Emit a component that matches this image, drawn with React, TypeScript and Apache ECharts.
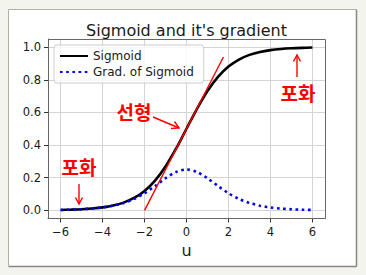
import React, { useEffect, useRef } from 'react';
import * as echarts from 'echarts';

const uValues = [-6, -5.5, -5, -4.5, -4, -3.5, -3, -2.5, -2, -1.5, -1, -0.5, 0, 0.5, 1, 1.5, 2, 2.5, 3, 3.5, 4, 4.5, 5, 5.5, 6];
const sigmoidValues = [0.0025, 0.0041, 0.0067, 0.011, 0.018, 0.0293, 0.0474, 0.0759, 0.1192, 0.1824, 0.2689, 0.3775, 0.5, 0.6225, 0.7311, 0.8176, 0.8808, 0.9241, 0.9526, 0.9707, 0.982, 0.989, 0.9933, 0.9959, 0.9975];
const gradValues = [0.0025, 0.0041, 0.0066, 0.0109, 0.0177, 0.0285, 0.0452, 0.0701, 0.105, 0.1491, 0.1966, 0.235, 0.25, 0.235, 0.1966, 0.1491, 0.105, 0.0701, 0.0452, 0.0285, 0.0177, 0.0109, 0.0066, 0.0041, 0.0025];
const tangentU = [-2, 1.76];
const tangentY = [0, 0.94];
const xTicks = [-6, -4, -2, 0, 2, 4, 6];
const yTicks = [0, 0.2, 0.4, 0.6, 0.8, 1.0];

const FONT = 'DejaVu Sans';
const KFONT = '"Noto Sans CJK KR"';
const RED = '#ff0000';
const TXT = '#1a1a1a';

export default function App() {
  const ref = useRef<HTMLDivElement>(null);
  useEffect(() => {
    const chart = echarts.init(ref.current!, null, { renderer: 'svg' });
    const sig = uValues.map((u, i) => [u, sigmoidValues[i]]);
    const grad = uValues.map((u, i) => [u, gradValues[i]]);
    const tan = tangentU.map((u, i) => [u, tangentY[i]]);
    chart.setOption({
      animation: false,
      backgroundColor: '#f4f4ef',
      textStyle: { fontFamily: FONT },
      grid: { left: 48, right: 41, top: 39, bottom: 56.5, show: false },
      legend: {
        data: ['Sigmoid', 'Grad. of Sigmoid'],
        orient: 'vertical',
        left: 54,
        top: 45,
        padding: [5, 10, 5, 5],
        itemWidth: 28,
        itemHeight: 14,
        itemGap: 4,
        itemStyle: { opacity: 0 },
        backgroundColor: 'rgba(255,255,255,0.8)',
        borderColor: '#cccccc',
        borderWidth: 1,
        borderRadius: 3,
        textStyle: { fontFamily: FONT, fontSize: 12, color: TXT },
      },
      xAxis: {
        type: 'value',
        min: -6.6,
        max: 6.6,
        name: 'u',
        nameLocation: 'middle',
        nameGap: 19,
        nameTextStyle: { fontFamily: FONT, fontSize: 16, color: TXT },
        axisLine: { onZero: false, lineStyle: { color: '#666', width: 1 } },
        axisTick: { show: true, length: 4, customValues: xTicks, lineStyle: { color: '#333' } },
        axisLabel: {
          customValues: xTicks,
          margin: 7,
          fontSize: 11.5,
          color: TXT,
          fontFamily: FONT,
          formatter: (v: number) => (v < 0 ? '\u2212' + Math.abs(v) : String(v)),
        },
        splitLine: { show: true, lineStyle: { color: '#d4d4d4', width: 1 } },
      },
      yAxis: {
        type: 'value',
        min: -0.05,
        max: 1.05,
        axisLine: { show: true, onZero: false, lineStyle: { color: '#666', width: 1 } },
        axisTick: { show: true, length: 4, customValues: yTicks, lineStyle: { color: '#333' } },
        axisLabel: {
          customValues: yTicks,
          margin: 7,
          fontSize: 11.5,
          color: TXT,
          fontFamily: FONT,
          formatter: (v: number) => v.toFixed(1),
        },
        splitLine: { show: true, lineStyle: { color: '#d4d4d4', width: 1 } },
      },
      series: [
        {
          name: 'Sigmoid',
          type: 'line',
          data: sig,
          smooth: 0.3,
          showSymbol: false,
          symbol: 'none',
          lineStyle: { color: '#000', width: 2.6 },
          itemStyle: { color: '#000' },
          z: 3,
        },
        {
          name: 'Grad. of Sigmoid',
          type: 'line',
          data: grad,
          smooth: 0.3,
          showSymbol: false,
          symbol: 'none',
          lineStyle: { color: '#0000ff', width: 2.6, type: [2.6, 3.6] },
          itemStyle: { color: '#0000ff' },
          z: 4,
        },
        {
          name: 'tangent',
          type: 'line',
          data: tan,
          showSymbol: false,
          symbol: 'none',
          lineStyle: { color: RED, width: 1.4 },
          itemStyle: { color: RED },
          z: 5,
        },
      ],
      graphic: [
        {
          type: 'rect',
          z: -10,
          shape: { x: 8.5, y: 9.5, width: 347.5, height: 256.5 },
          style: { fill: '#ffffff', stroke: null },
        },
        { type: 'line', z: -9, shape: { x1: 8.5, y1: 9.5, x2: 356, y2: 9.5 }, style: { stroke: '#b0b0a8', lineWidth: 1 } },
        { type: 'line', z: -9, shape: { x1: 8.5, y1: 9.5, x2: 8.5, y2: 266 }, style: { stroke: '#b0b0a8', lineWidth: 1 } },
        { type: 'line', z: -9, shape: { x1: 356.5, y1: 9.5, x2: 356.5, y2: 266.5 }, style: { stroke: '#8a8580', lineWidth: 1.5 } },
        { type: 'line', z: -9, shape: { x1: 8.5, y1: 266.5, x2: 356.5, y2: 266.5 }, style: { stroke: '#8a8580', lineWidth: 1.5 } },
        {
          type: 'rect',
          z: 20,
          silent: true,
          shape: { x: 48.5, y: 39.5, width: 277, height: 179 },
          style: { fill: null, stroke: '#666', lineWidth: 1 },
        },
        {
          type: 'text',
          z: 20,
          x: 186.5,
          y: 30,
          style: {
            text: "Sigmoid and it's gradient",
            fontFamily: FONT,
            fontSize: 16,
            fill: TXT,
            align: 'center',
            verticalAlign: 'middle',
          },
        },
        {
          type: 'text',
          z: 30,
          x: 134,
          y: 111,
          style: { text: '선형', fontFamily: KFONT, fontWeight: 'bold', fontSize: 19, fill: RED, align: 'center', verticalAlign: 'middle' },
        },
        {
          type: 'text',
          z: 30,
          x: 79,
          y: 166,
          style: { text: '포화', fontFamily: KFONT, fontWeight: 'bold', fontSize: 19, fill: RED, align: 'center', verticalAlign: 'middle' },
        },
        {
          type: 'text',
          z: 30,
          x: 298,
          y: 92,
          style: { text: '포화', fontFamily: KFONT, fontWeight: 'bold', fontSize: 19, fill: RED, align: 'center', verticalAlign: 'middle' },
        },
        { type: 'line', z: 30, shape: { x1: 153, y1: 117, x2: 179, y2: 128 }, style: { stroke: RED, lineWidth: 1.4 } },
        { type: 'polyline', z: 30, shape: { points: [[171, 128.5], [179, 128], [174.5, 121.5]] }, style: { stroke: RED, lineWidth: 1.4, fill: null } },
        { type: 'line', z: 30, shape: { x1: 79, y1: 184, x2: 79, y2: 204 }, style: { stroke: RED, lineWidth: 1.4 } },
        { type: 'polyline', z: 30, shape: { points: [[75.5, 197.5], [79, 204], [82.5, 197.5]] }, style: { stroke: RED, lineWidth: 1.4, fill: null } },
        { type: 'line', z: 30, shape: { x1: 297, y1: 77, x2: 297, y2: 55 }, style: { stroke: RED, lineWidth: 1.4 } },
        { type: 'polyline', z: 30, shape: { points: [[293.5, 61.5], [297, 55], [300.5, 61.5]] }, style: { stroke: RED, lineWidth: 1.4, fill: null } },
      ],
    });
    return () => chart.dispose();
  }, []);
  return <div ref={ref} style={{ position: 'fixed', left: 0, top: 0, width: 366, height: 275 }} />;
}
